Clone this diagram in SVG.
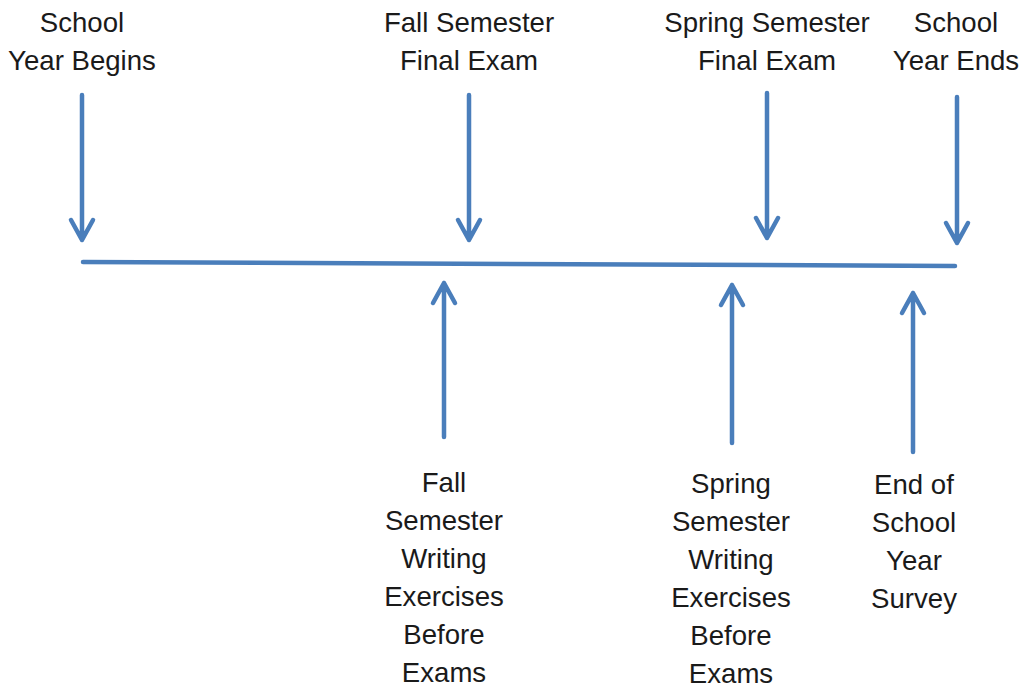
<svg xmlns="http://www.w3.org/2000/svg" width="1022" height="690" viewBox="0 0 1022 690">
<style>
.t{font-family:"Liberation Sans",Arial,sans-serif;font-size:27.6px;fill:#1a1a1a;text-anchor:middle}
.a{stroke:#4a7ebb;stroke-width:4.5;fill:none;stroke-linecap:round;stroke-linejoin:round}
</style>
<rect width="1022" height="690" fill="#fff"/>
<g id="connectors">
<path class="a" d="M83,262 L955,266"/>
<path class="a" d="M82,95 V240 M71,220 L82,240 L93,220"/>
<path class="a" d="M469,95 V240 M458,220 L469,240 L480,220"/>
<path class="a" d="M767,93 V238 M756,218 L767,238 L778,218"/>
<path class="a" d="M957,97 V243 M946,223 L957,243 L968,223"/>
<path class="a" d="M444,437 V283 M433,303 L444,283 L455,303"/>
<path class="a" d="M732,443 V285 M721,305 L732,285 L743,305"/>
<path class="a" d="M913,452 V293 M902,313 L913,293 L924,313"/>
</g>
<g id="school-year-begins"><text class="t" x="82" y="32">School</text><text class="t" x="82" y="70">Year Begins</text></g>
<g id="fall-final"><text class="t" x="469" y="32">Fall Semester</text><text class="t" x="469" y="70">Final Exam</text></g>
<g id="spring-final"><text class="t" x="767" y="32">Spring Semester</text><text class="t" x="767" y="70">Final Exam</text></g>
<g id="school-year-ends"><text class="t" x="956" y="32">School</text><text class="t" x="956" y="70">Year Ends</text></g>
<g id="fall-writing"><text class="t" x="444" y="492">Fall</text><text class="t" x="444" y="530">Semester</text><text class="t" x="444" y="568">Writing</text><text class="t" x="444" y="606">Exercises</text><text class="t" x="444" y="644">Before</text><text class="t" x="444" y="682">Exams</text></g>
<g id="spring-writing"><text class="t" x="731" y="493">Spring</text><text class="t" x="731" y="531">Semester</text><text class="t" x="731" y="569">Writing</text><text class="t" x="731" y="607">Exercises</text><text class="t" x="731" y="645">Before</text><text class="t" x="731" y="683">Exams</text></g>
<g id="end-survey"><text class="t" x="914" y="494">End of</text><text class="t" x="914" y="532">School</text><text class="t" x="914" y="570">Year</text><text class="t" x="914" y="608">Survey</text></g>
</svg>
